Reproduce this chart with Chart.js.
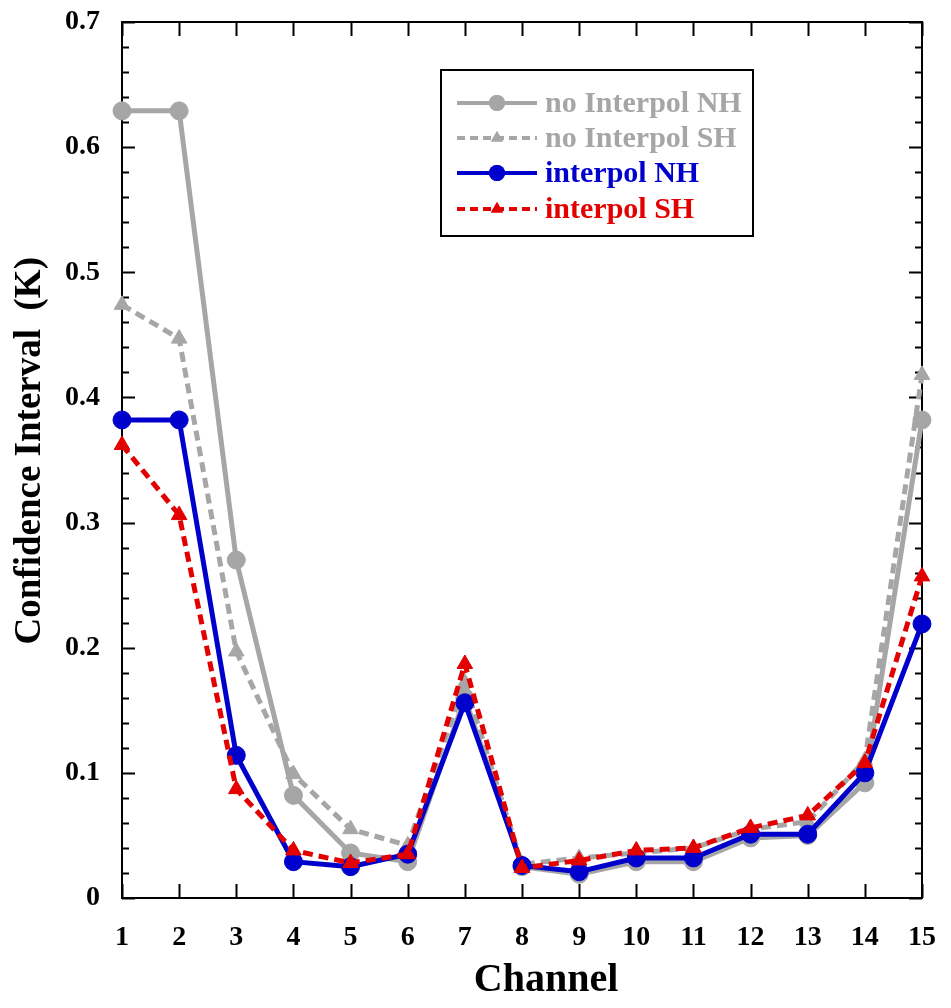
<!DOCTYPE html>
<html>
<head>
<meta charset="utf-8">
<script src="https://cdn.jsdelivr.net/npm/chart.js@4.4.1/dist/chart.umd.min.js"></script>
<style>
  html, body { margin: 0; padding: 0; background: #fff; }
  #wrap { width: 951px; height: 1008px; }
</style>
</head>
<body>
<div id="wrap"><canvas id="chartCI" width="951" height="1008"></canvas></div>
<script>
// channel numbers and the four series
const channels = [1, 2, 3, 4, 5, 6, 7, 8, 9, 10, 11, 12, 13, 14, 15];
const noInterpolNH = [0.629, 0.629, 0.270, 0.082, 0.036, 0.029, 0.160, 0.025, 0.019, 0.029, 0.029, 0.048, 0.050, 0.092, 0.382];
const noInterpolSH = [0.474, 0.447, 0.197, 0.099, 0.055, 0.042, 0.172, 0.027, 0.032, 0.036, 0.040, 0.055, 0.061, 0.110, 0.418];
const interpolNH   = [0.382, 0.382, 0.114, 0.029, 0.025, 0.035, 0.156, 0.026, 0.021, 0.032, 0.032, 0.051, 0.051, 0.100, 0.219];
const interpolSH   = [0.362, 0.306, 0.087, 0.038, 0.028, 0.035, 0.187, 0.024, 0.030, 0.038, 0.040, 0.056, 0.066, 0.108, 0.257];
const yTicks = [0, 0.1, 0.2, 0.3, 0.4, 0.5, 0.6, 0.7];

const GRAY = '#a6a6a6';
const BLUE = '#0000cc';
const RED = '#e30000';
const FONT = "'Liberation Serif', 'Times New Roman', serif";

function pts(arr) {
  return arr.map((v, i) => ({ x: channels[i], y: v }));
}

function makeSet(label, data, color, dashed, style, order) {
  return {
    label: label,
    data: pts(data),
    borderColor: color,
    backgroundColor: color,
    borderWidth: 5,
    borderDash: dashed ? [10, 6] : [],
    pointStyle: style,
    pointRadius: 9,
    pointBackgroundColor: color,
    pointBorderColor: color,
    pointBorderWidth: 1,
    tension: 0,
    clip: false,
    order: order
  };
}

// frame with inward ticks on all four sides
const frameTicks = {
  id: 'frameTicks',
  beforeDatasetsDraw(chart) {
    const { ctx, chartArea: a, scales: { x, y } } = chart;
    ctx.save();
    ctx.strokeStyle = '#000';
    ctx.lineWidth = 2;
    ctx.setLineDash([]);
    ctx.strokeRect(a.left, a.top, a.right - a.left, a.bottom - a.top);
    ctx.beginPath();
    // y ticks: major every 0.1, minor every 0.02
    for (let k = 0; k <= 35; k++) {
      const py = Math.round(y.getPixelForValue(k * 0.02)) + 0.5;
      const len = (k % 5 === 0) ? 13 : 7;
      ctx.moveTo(a.left, py); ctx.lineTo(a.left + len, py);
      ctx.moveTo(a.right, py); ctx.lineTo(a.right - len, py);
    }
    // x ticks at each channel
    channels.forEach(c => {
      const px = Math.round(x.getPixelForValue(c)) + 0.5;
      ctx.moveTo(px, a.bottom); ctx.lineTo(px, a.bottom - 14);
      ctx.moveTo(px, a.top); ctx.lineTo(px, a.top + 14);
    });
    ctx.stroke();
    ctx.restore();
  }
};

// boxed legend inside the plot, upper right
const boxLegend = {
  id: 'boxLegend',
  afterDraw(chart) {
    const ctx = chart.ctx;
    const bx = 441, by = 70, bw = 312, bh = 166;
    const rows = [103, 138, 173, 209];
    ctx.save();
    ctx.fillStyle = '#fff';
    ctx.fillRect(bx, by, bw, bh);
    ctx.strokeStyle = '#000';
    ctx.lineWidth = 2;
    ctx.strokeRect(bx, by, bw, bh);
    ctx.font = 'bold 30px ' + FONT;
    ctx.textBaseline = 'middle';
    ctx.textAlign = 'left';
    chart.data.datasets.forEach((ds, i) => {
      const yy = rows[i];
      ctx.strokeStyle = ds.borderColor;
      ctx.lineWidth = 4;
      ctx.setLineDash(ds.borderDash.length ? [8, 5] : []);
      ctx.beginPath();
      ctx.moveTo(457, yy); ctx.lineTo(537, yy);
      ctx.stroke();
      ctx.setLineDash([]);
      ctx.fillStyle = ds.borderColor;
      Chart.helpers.drawPoint(ctx, { pointStyle: ds.pointStyle, radius: ds.pointStyle === 'circle' ? 8 : 7, borderWidth: 0, rotation: 0 }, 497, yy);
      ctx.fill();
      ctx.fillText(ds.label, 545, yy + 1);
    });
    ctx.restore();
  }
};

// invisible tick marks only to space the labels from the axes
const hiddenGrid = (len) => ({
  display: true,
  color: 'rgba(0,0,0,0)',
  drawOnChartArea: false,
  drawTicks: true,
  tickLength: len
});

const ctx = document.getElementById('chartCI').getContext('2d');
const chartCI = new Chart(ctx, {
  type: 'line',
  data: {
    datasets: [
      makeSet('no Interpol NH', noInterpolNH, GRAY, false, 'circle', 4),
      makeSet('no Interpol SH', noInterpolSH, GRAY, true, 'triangle', 3),
      makeSet('interpol NH', interpolNH, BLUE, false, 'circle', 2),
      makeSet('interpol SH', interpolSH, RED, true, 'triangle', 1)
    ]
  },
  options: {
    responsive: false,
    animation: false,
    layout: { autoPadding: false, padding: { top: 22, right: 29, left: 0, bottom: 0 } },
    plugins: {
      legend: { display: false },
      tooltip: { enabled: false }
    },
    scales: {
      x: {
        type: 'linear',
        min: 1,
        max: 15,
        afterFit: (s) => { s.height = 110; },
        afterBuildTicks: (s) => { s.ticks = channels.map(v => ({ value: v })); },
        grid: hiddenGrid(23),
        border: { display: false },
        ticks: {
          padding: 0,
          color: '#000',
          font: { family: FONT, weight: 'bold', size: 28 },
          callback: (v) => String(v)
        },
        title: {
          display: true,
          text: '\u2003\u2009Channel',
          color: '#000',
          font: { family: FONT, weight: 'bold', size: 40 },
          padding: { top: 0, bottom: 3 }
        }
      },
      y: {
        min: 0,
        max: 0.7,
        afterFit: (s) => { s.width = 122; },
        afterBuildTicks: (s) => { s.ticks = yTicks.map(v => ({ value: v })); },
        grid: hiddenGrid(22),
        border: { display: false },
        ticks: {
          padding: 0,
          color: '#000',
          font: { family: FONT, weight: 'bold', size: 28 },
          callback: (v) => v === 0 ? '0' : v.toFixed(1)
        },
        title: {
          display: true,
          text: '\u2002Confidence Interval  (K)',
          color: '#000',
          font: { family: FONT, weight: 'bold', size: 37 },
          padding: { top: 8, bottom: 0 }
        }
      }
    }
  },
  plugins: [frameTicks, boxLegend]
});
</script>
</body>
</html>
